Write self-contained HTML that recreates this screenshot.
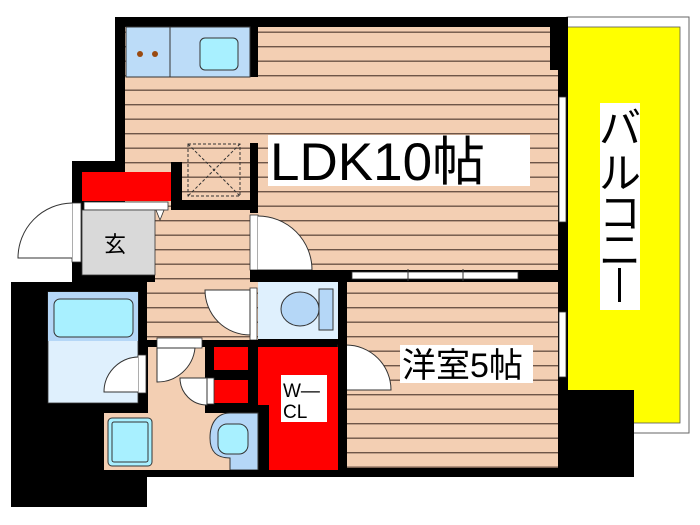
<!DOCTYPE html>
<html><head><meta charset="utf-8"><style>
html,body{margin:0;padding:0;background:#fff;width:700px;height:525px;overflow:hidden}
svg{display:block}
text{font-family:"Liberation Sans","Noto Sans CJK JP",sans-serif;fill:#000}
</style></head><body>
<svg width="700" height="525" viewBox="0 0 700 525" xmlns="http://www.w3.org/2000/svg">
<defs>
<pattern id="fl" x="0" y="0" width="10" height="14.5" patternUnits="userSpaceOnUse" patternTransform="translate(0,4)">
<rect width="10" height="14.5" fill="#f3cfb3"/>
<rect y="13" width="10" height="1.4" fill="#6e5648"/>
</pattern>
</defs>
<!-- balcony -->
<rect x="567" y="17" width="122" height="416" fill="#fff" stroke="#666" stroke-width="1"/>
<rect x="567" y="27" width="113" height="396" fill="#ffff00" stroke="#555" stroke-width="0.8"/>
<rect x="600" y="103" width="40" height="207" fill="#fff"/>
<text font-size="42" x="620" y="143" text-anchor="middle">バ</text>
<text font-size="42" x="620" y="188" text-anchor="middle">ル</text>
<text font-size="42" x="620" y="228" text-anchor="middle">コ</text>
<text font-size="42" x="620" y="265" text-anchor="middle">ニ</text>
<rect x="618" y="268" width="3" height="34" fill="#000"/>

<rect x="115" y="17" width="453" height="460" fill="#000"/>
<rect x="568" y="390" width="66" height="87" fill="#000"/>
<rect x="11" y="282" width="136" height="225" fill="#000"/>
<rect x="72" y="161" width="110" height="121" fill="#000"/>

<rect x="125" y="27" width="425" height="243" fill="url(#fl)"/>
<rect x="550" y="70" width="8" height="200" fill="url(#fl)"/>
<rect x="182" y="143" width="68" height="57" fill="url(#fl)"/>
<rect x="155" y="210" width="95" height="80" fill="url(#fl)"/>
<rect x="147" y="282" width="111" height="58" fill="url(#fl)"/>
<rect x="115" y="17" width="10" height="150" fill="#000"/>
<rect x="250" y="27" width="8" height="50" fill="#000"/>
<rect x="250" y="143" width="8" height="70" fill="#000"/>
<rect x="171" y="200" width="87" height="10" fill="#000"/>
<rect x="171" y="162" width="11" height="48" fill="#000"/>
<rect x="126" y="27" width="124" height="50" fill="#bcdcf8" stroke="#333" stroke-width="1"/>
<line x1="170" y1="27" x2="170" y2="77" stroke="#333"/>
<rect x="200" y="38" width="38" height="32" rx="5" fill="#a8f0ff" stroke="#333"/>
<circle cx="140" cy="54" r="3" fill="#9a4a10"/><circle cx="155" cy="54" r="3" fill="#9a4a10"/>
<rect x="188" y="144" width="52" height="52" fill="none" stroke="#333" stroke-dasharray="3,2"/>
<line x1="188" y1="144" x2="240" y2="196" stroke="#333" stroke-dasharray="3,2"/>
<line x1="240" y1="144" x2="188" y2="196" stroke="#333" stroke-dasharray="3,2"/>
<rect x="268" y="135" width="262" height="51" fill="#fff"/>
<text x="270" y="180" font-size="53">LDK10帖</text>
<rect x="82" y="172" width="89" height="29" fill="#ff0000"/>
<rect x="84" y="202" width="84" height="8" fill="#fff" stroke="#333" stroke-width="0.8"/>
<polygon points="89,210 97,210 93,220" fill="#fff" stroke="#333" stroke-width="0.8"/>
<polygon points="156,210 164,210 160,220" fill="#fff" stroke="#333" stroke-width="0.8"/>
<rect x="82" y="210" width="73" height="65" fill="#d9d9d9" stroke="#333" stroke-width="0.8"/>
<text x="104" y="252" font-size="22">玄</text>
<rect x="72" y="203" width="9" height="59" fill="#fff" stroke="#333" stroke-width="0.8"/>
<path d="M72,203 A55,55 0 0 0 18,258 L72,258" fill="#fff" stroke="#333" stroke-width="1"/>
<rect x="250" y="215" width="8" height="55" fill="#fff" stroke="#333" stroke-width="0.8"/>
<path d="M258,216 A54,54 0 0 1 312,270 L258,270" fill="#fff" stroke="#333"/>
<rect x="250" y="270" width="308" height="12" fill="#000"/>
<rect x="352" y="272" width="166" height="7" fill="#fff" stroke="#333" stroke-width="0.8"/>
<line x1="408" y1="269" x2="408" y2="281" stroke="#333"/><line x1="463" y1="269" x2="463" y2="281" stroke="#333"/>
<rect x="559" y="97" width="7" height="125" fill="#fff" stroke="#333" stroke-width="0.8"/>
<rect x="559" y="312" width="7" height="65" fill="#fff" stroke="#333" stroke-width="0.8"/>
<rect x="347" y="282" width="211" height="186" fill="url(#fl)"/>
<rect x="400" y="345" width="133" height="38" fill="#fff"/>
<text x="402" y="377" font-size="34">洋室5帖</text>
<rect x="338" y="345" width="8" height="56" fill="#fff" stroke="#333" stroke-width="0.8"/>
<path d="M346,345 A45,45 0 0 1 391,390 L346,390" fill="#fff" stroke="#333"/>
<rect x="258" y="282" width="80" height="57" fill="#dff0fd"/>
<rect x="319" y="289" width="14" height="41" fill="#b5d7f7" stroke="#333"/>
<ellipse cx="300" cy="309" rx="19" ry="17" fill="#b5d7f7" stroke="#333"/>
<rect x="250" y="288" width="7" height="52" fill="#fff" stroke="#333" stroke-width="0.8"/>
<path d="M250,290 L205,290 A45,45 0 0 0 250,335 Z" fill="#fff" stroke="#333"/>
<rect x="48" y="292" width="90" height="111" fill="#dff0fd" stroke="#333" stroke-width="0.8"/>
<rect x="48" y="292" width="90" height="49" fill="#b5d7f7"/>
<rect x="54" y="299" width="79" height="38" rx="6" fill="#a8f0ff" stroke="#333"/>
<rect x="148" y="347" width="57" height="123" fill="#f3cfb3"/>
<rect x="104" y="413" width="126" height="57" fill="#f3cfb3"/>
<rect x="205" y="405" width="25" height="65" fill="#f3cfb3"/>
<rect x="138" y="355" width="8" height="38" fill="#fff" stroke="#333" stroke-width="0.8"/>
<path d="M138,357 A35,35 0 0 0 104,392 L138,392" fill="#fff" stroke="#333"/>
<rect x="157" y="338" width="45" height="10" fill="#fff" stroke="#333" stroke-width="0.8"/>
<path d="M157,348 L157,382 A38,38 0 0 0 195,348 Z" fill="#fff" stroke="#333"/>
<rect x="108" y="418" width="44" height="48" rx="4" fill="#a8f0ff" stroke="#333"/>
<rect x="112" y="422" width="36" height="40" rx="2" fill="none" stroke="#333"/>
<rect x="205" y="340" width="53" height="73" fill="#000"/>
<rect x="214" y="347" width="34" height="23" fill="#ff0000"/>
<rect x="214" y="380" width="34" height="23" fill="#ff0000"/>
<rect x="207" y="378" width="7" height="26" fill="#fff" stroke="#333" stroke-width="0.8"/>
<path d="M207,378 L180,378 A27,27 0 0 0 207,405 Z" fill="#fff" stroke="#333"/>
<rect x="258" y="347" width="80" height="123" fill="#ff0000"/>
<rect x="258" y="405" width="11" height="65" fill="#000"/>
<rect x="281" y="375" width="46" height="47" fill="#fff"/>
<text x="283" y="397" font-size="19">W—</text>
<text x="283" y="418" font-size="19">CL</text>
<path d="M230,413 L258,413 L258,470 L230,470 L230,458 C215,458 210,450 210,438 C210,422 218,413 230,413 Z" fill="#b5d7f7" stroke="#333"/>
<rect x="218" y="424" width="30" height="30" rx="9" fill="#a8f0ff" stroke="#333"/>
<rect x="104" y="470" width="464" height="7" fill="#000"/>
<rect x="338" y="282" width="9" height="195" fill="#000"/>
</svg>
</body></html>
